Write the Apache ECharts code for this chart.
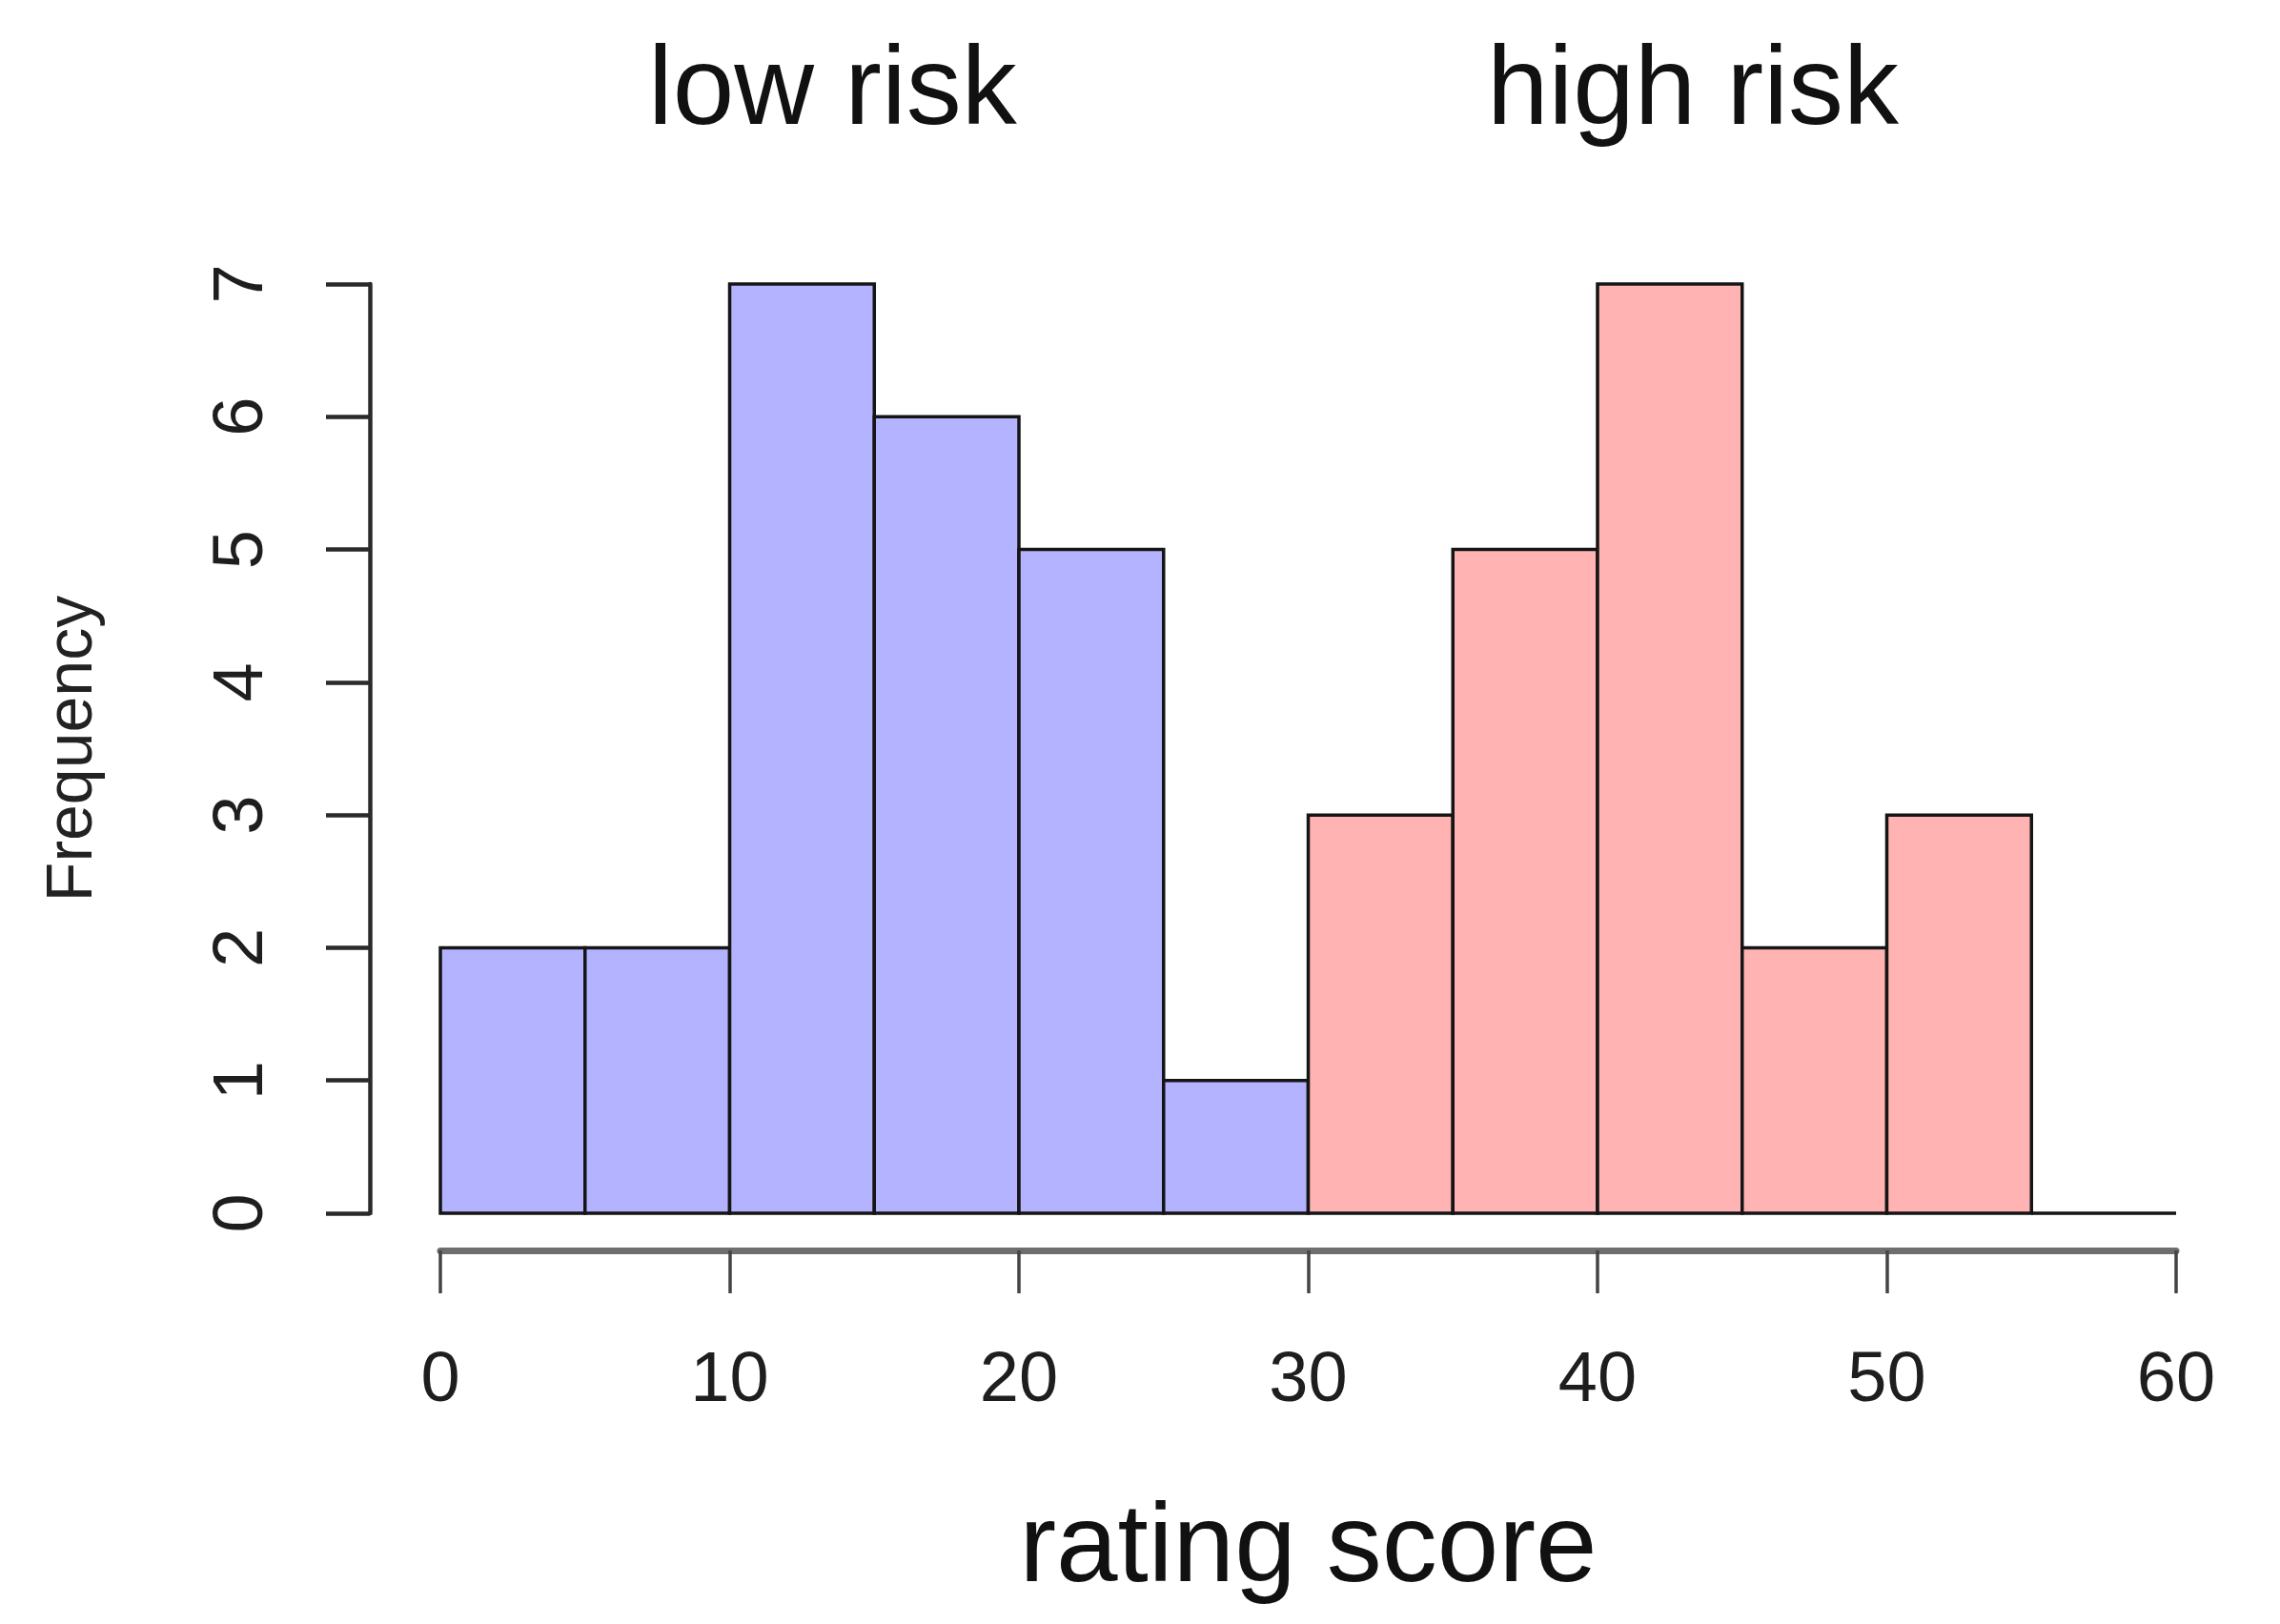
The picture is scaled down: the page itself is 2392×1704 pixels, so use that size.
<!DOCTYPE html>
<html>
<head>
<meta charset="utf-8">
<script src="https://cdn.jsdelivr.net/npm/echarts@6/dist/echarts.min.js"></script>
<style>
html,body{margin:0;padding:0;background:#fff;}
#chart{width:2392px;height:1704px;}
</style>
</head>
<body>
<div id="chart"></div>
<script>
// Histogram bins: [start, end, count]
const lowRiskStarts = [0, 5, 10, 15, 20, 25];
const lowRiskCounts = [2, 2, 7, 6, 5, 1];
const highRiskStarts = [30, 35, 40, 45, 50, 55];
const highRiskCounts = [3, 5, 7, 2, 3, 0];
const binWidth = 5;
const xTicks = [0, 10, 20, 30, 40, 50, 60];
const yTicks = [0, 1, 2, 3, 4, 5, 6, 7];
const groupLabels = ['low risk', 'high risk'];
const xTitle = 'rating score';
const yTitle = 'Frequency';

const FONT = '"Liberation Sans", Arial, Helvetica, sans-serif';

function bins(starts, counts) {
  return starts.map((s, i) => [s, s + binWidth, counts[i]]);
}

function makeRender(fill) {
  return function (params, api) {
    const p0 = api.coord([api.value(0), 0]);
    const p1 = api.coord([api.value(1), api.value(2)]);
    return {
      type: 'rect',
      shape: { x: p0[0], y: p1[1], width: p1[0] - p0[0], height: p0[1] - p1[1] },
      style: { fill: fill, stroke: '#151515', lineWidth: 3.5 }
    };
  };
}

const chart = echarts.init(document.getElementById('chart'), null, { renderer: 'canvas' });

chart.setOption({
  backgroundColor: '#ffffff',
  animation: false,
  textStyle: { fontFamily: FONT },
  grid: { left: 462, right: 109, top: 298, bottom: 431, containLabel: false },
  xAxis: {
    type: 'value',
    min: 0, max: 60, interval: 10,
    offset: 39,
    name: xTitle,
    nameLocation: 'middle',
    nameGap: 257,
    nameTextStyle: { fontSize: 116, color: '#111', fontFamily: FONT },
    axisLine: { show: true, onZero: false, lineStyle: { color: '#6e6e6e', width: 7 } },
    axisTick: { show: true, length: 45, lineStyle: { color: '#444', width: 3.5 } },
    axisLabel: { fontSize: 74, color: '#1e1e1e', margin: 101, fontFamily: FONT,
      formatter: v => (xTicks.indexOf(v) >= 0 ? String(v) : '') },
    splitLine: { show: false }
  },
  yAxis: {
    type: 'value',
    min: 0, max: 7, interval: 1,
    offset: 74,
    name: yTitle,
    nameLocation: 'middle',
    nameRotate: 90,
    nameGap: 277,
    nameTextStyle: { fontSize: 68, color: '#222', fontFamily: FONT },
    axisLine: { show: true, onZero: false, lineStyle: { color: '#2a2a2a', width: 4.5 } },
    axisTick: { show: true, length: 46, lineStyle: { color: '#2a2a2a', width: 4.5 } },
    axisLabel: { fontSize: 74, color: '#1e1e1e', rotate: 90, margin: 96, fontFamily: FONT,
      formatter: v => (yTicks.indexOf(v) >= 0 ? String(v) : '') },
    splitLine: { show: false }
  },
  graphic: [
    { type: 'text', left: 880 - 200, top: 40, style: { text: groupLabels[0], x: 0, fontSize: 116, fontFamily: FONT, fill: '#111', align: 'center', width: 400 } },
    { type: 'text', left: 1810 - 250, top: 40, style: { text: groupLabels[1], x: 0, fontSize: 116, fontFamily: FONT, fill: '#111', align: 'center', width: 500 } }
  ],
  series: [
    {
      name: groupLabels[0], type: 'custom',
      renderItem: makeRender('#b3b3ff'),
      encode: { x: [0, 1], y: 2 },
      data: bins(lowRiskStarts, lowRiskCounts)
    },
    {
      name: groupLabels[1], type: 'custom',
      renderItem: makeRender('#ffb3b3'),
      encode: { x: [0, 1], y: 2 },
      data: bins(highRiskStarts, highRiskCounts)
    }
  ]
});
</script>
</body>
</html>
